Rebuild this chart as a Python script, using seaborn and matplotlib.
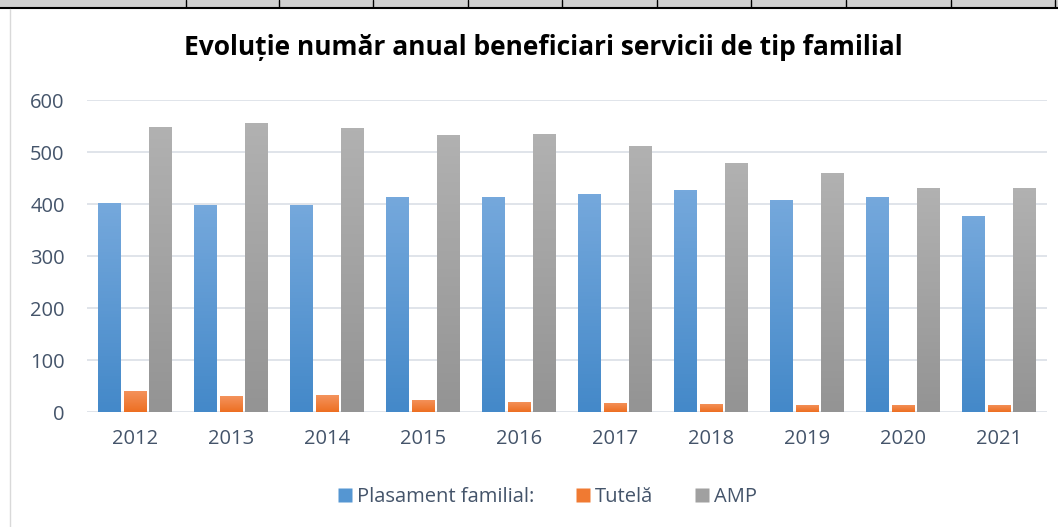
import numpy as np
import pandas as pd
import seaborn as sns
import matplotlib.pyplot as plt
from matplotlib.colors import LinearSegmentedColormap
from matplotlib.lines import Line2D
from matplotlib.patches import Rectangle

#%% data
years = ['2012', '2013', '2014', '2015', '2016', '2017', '2018', '2019', '2020', '2021']
plasament = [401, 399, 399, 414, 414, 420, 427, 408, 414, 377]
tutela = [41, 30, 32, 24, 20, 18, 16, 14, 14, 14]
amp = [549, 556, 547, 533, 535, 512, 479, 460, 431, 431]
series = ['Plasament familial:', 'Tutelă', 'AMP']

df = pd.DataFrame({
    'An': years * 3,
    'Serie': [series[0]] * 10 + [series[1]] * 10 + [series[2]] * 10,
    'Valoare': plasament + tutela + amp,
})

# (top, bottom) colour of each gradient, plus solid colour for legend
grads = {
    series[0]: ('#75a8dc', '#4489c9'),
    series[1]: ('#f4935d', '#ed6f22'),
    series[2]: ('#b1b1b1', '#949494'),
}
solid = {series[0]: '#5596d2', series[1]: '#f07a32', series[2]: '#a0a0a0'}

#%%
sns.set_theme(style='white')
plt.rcParams['font.family'] = ['Open Sans', 'DejaVu Sans']
txt = '#44546a'

fig = plt.figure(figsize=(10.58, 5.27), dpi=100)
ax = fig.add_axes([0.0822, 0.2182, 0.9074, 0.592])

sns.barplot(data=df, x='An', y='Valoare', hue='Serie', hue_order=series,
            palette=solid, width=0.8, gap=0.12, legend=False, ax=ax,
            saturation=1, edgecolor='none')

# gradient fill inside every bar
for cont, s in zip(ax.containers, series):
    cmap = LinearSegmentedColormap.from_list(s, [grads[s][1], grads[s][0]])
    for p in cont.patches:
        x0, y0 = p.get_x(), p.get_y()
        w, h = p.get_width(), p.get_height()
        im = ax.imshow(np.linspace(0, 1, 64).reshape(-1, 1), cmap=cmap,
                       extent=[x0, x0 + w, y0, y0 + h], origin='lower',
                       aspect='auto', zorder=2)
        im.set_clip_path(p)
        p.set_facecolor('none')

ax.set_xlim(-0.5, len(years) - 0.5)
ax.set_ylim(0, 600)
ax.set_yticks(range(0, 601, 100))
ax.yaxis.grid(True, color='#dde2e8', linewidth=1.3)
ax.set_axisbelow(True)
for sp in ax.spines.values():
    sp.set_visible(False)
ax.set_xlabel('')
ax.set_ylabel('')
ax.tick_params(axis='y', length=0, pad=16, labelsize=14.5, labelcolor=txt)
ax.tick_params(axis='x', length=0, pad=12, labelsize=14.5, labelcolor=txt)

fig.text(0.514, 0.909, 'Evoluție număr anual beneficiari servicii de tip familial',
         ha='center', va='center', fontsize=19, fontweight='bold', color='black')

handles = [Line2D([], [], marker='s', linestyle='none', markersize=9.5,
                  markerfacecolor=solid[s], markeredgecolor='none') for s in series]
fig.legend(handles, series, loc='center', bbox_to_anchor=(0.516, 0.057),
           ncol=3, frameon=False, fontsize=14.5, labelcolor=txt,
           handletextpad=0.1, columnspacing=1.9, handlelength=1.0)

# strip of the table above and the chart frame
fig.add_artist(Rectangle((0, 1 - 7 / 527), 1, 7 / 527, transform=fig.transFigure,
                         facecolor='#d0d0d0', edgecolor='none'))
fig.add_artist(Line2D([0, 1], [1 - 7.5 / 527] * 2, transform=fig.transFigure,
                      color='black', linewidth=1.5))
for xv in [186, 279, 373, 468, 562, 657, 751, 846, 951, 1055]:
    fig.add_artist(Line2D([xv / 1058] * 2, [1 - 7 / 527, 1], transform=fig.transFigure,
                          color='black', linewidth=1))
fig.add_artist(Line2D([10 / 1058] * 2, [0, 1 - 9 / 527], transform=fig.transFigure,
                      color='#d9d9d9', linewidth=1))

fig.savefig('out.png', dpi=100, facecolor='white')
